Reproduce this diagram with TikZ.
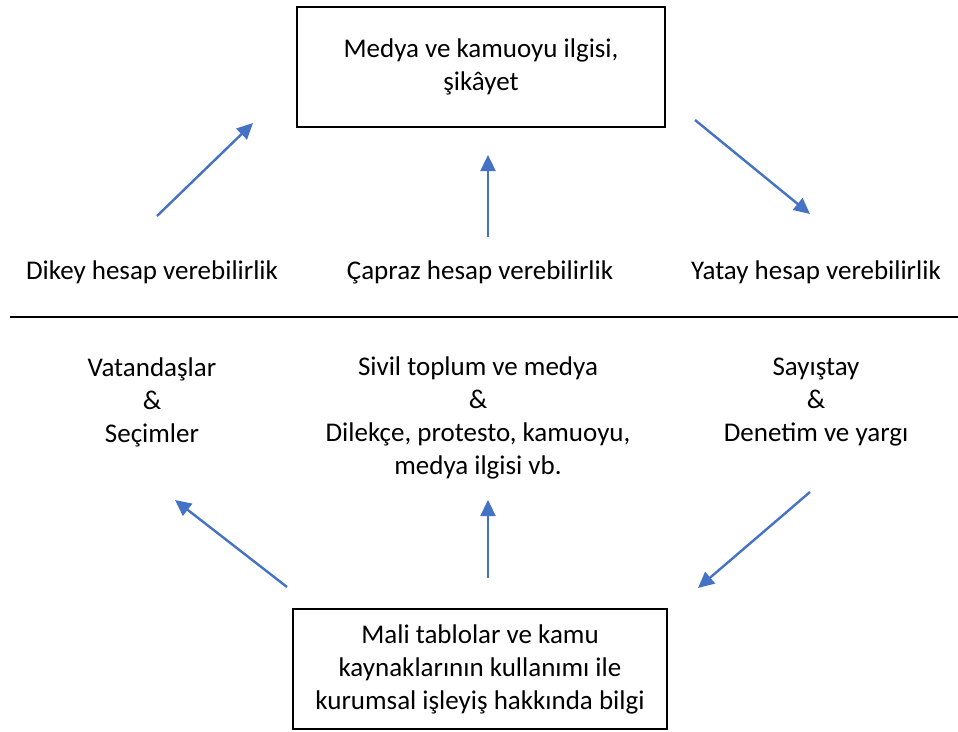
\documentclass[tikz,border=0pt]{standalone}
\usepackage{fontspec}
\setmainfont{Carlito}
\usetikzlibrary{arrows.meta}
\definecolor{arrowblue}{HTML}{4472C4}
\begin{document}
\begin{tikzpicture}[x=1pt,y=-1pt,
  txt/.style={align=center,font=\fontsize{27}{33}\selectfont,inner sep=0pt},
  boxnode/.style={txt,draw=black,line width=1.6pt,minimum width=368pt,minimum height=120pt},
  arr/.style={draw=arrowblue,line width=2.4pt,-{Triangle[length=16pt,width=15pt]}}]
\useasboundingbox (0,0) rectangle (958,731);
% boxes
\node[boxnode] (top) at (481,67) {Medya ve kamuoyu ilgisi,\\ şikâyet};
\node[boxnode,minimum width=374pt] (bottom) at (480,669) {Mali tablolar ve kamu\\ kaynaklarının kullanımı ile\\ kurumsal işleyiş hakkında bilgi};
% labels
\node[txt] (dikey) at (152,272) {Dikey hesap verebilirlik};
\node[txt] (capraz) at (480,272) {Çapraz hesap verebilirlik};
\node[txt] (yatay) at (816,272) {Yatay hesap verebilirlik};
\node[txt] (vat) at (152,402) {Vatandaşlar\\ \&\\ Seçimler};
\node[txt] (sivil) at (478,418) {Sivil toplum ve medya\\ \&\\ Dilekçe, protesto, kamuoyu,\\ medya ilgisi vb.};
\node[txt] (say) at (816,402) {Sayıştay\\ \&\\ Denetim ve yargı};
% divider
\coordinate (lineL) at (10,317);
\coordinate (lineR) at (958,317);
\draw[line width=2pt] (lineL) -- (lineR);
% arrow coordinates
\coordinate (a1s) at (157,216); \coordinate (a1e) at (253,123);
\coordinate (a2s) at (488,237); \coordinate (a2e) at (488,155);
\coordinate (a3s) at (695,120); \coordinate (a3e) at (810,214);
\coordinate (b1s) at (287,587); \coordinate (b1e) at (175,500);
\coordinate (b2s) at (488,578); \coordinate (b2e) at (488,500);
\coordinate (b3s) at (810,492); \coordinate (b3e) at (698,588);
\draw[arr] (a1s) -- (a1e);
\draw[arr] (a2s) -- (a2e);
\draw[arr] (a3s) -- (a3e);
\draw[arr] (b1s) -- (b1e);
\draw[arr] (b2s) -- (b2e);
\draw[arr] (b3s) -- (b3e);
\end{tikzpicture}
\end{document}
